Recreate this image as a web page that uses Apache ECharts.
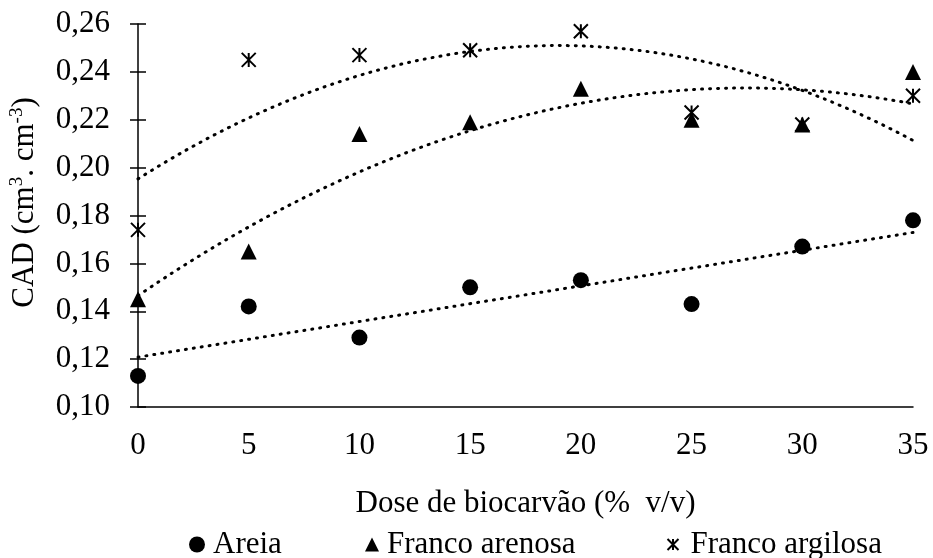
<!DOCTYPE html>
<html>
<head>
<meta charset="utf-8">
<script src="https://cdn.jsdelivr.net/npm/echarts@6/dist/echarts.min.js"></script>
<style>
  html, body { margin: 0; padding: 0; background: #fff; }
  #chart { width: 933px; height: 558px; }
</style>
</head>
<body>
<div id="chart"></div>
<script>
// dados
var doses = [0, 5, 10, 15, 20, 25, 30, 35];
var areia = [0.113, 0.142, 0.129, 0.150, 0.153, 0.143, 0.167, 0.178];
var francoArenosa = [0.145, 0.165, 0.214, 0.219, 0.233, 0.220, 0.218, 0.240];
var francoArgilosa = [0.174, 0.245, 0.247, 0.249, 0.257, 0.223, 0.218, 0.230];
var yTicks = [0.10, 0.12, 0.14, 0.16, 0.18, 0.20, 0.22, 0.24, 0.26];

var FONT = '"Liberation Serif", "Times New Roman", serif';
var FS = 31;

// ajuste por minimos quadrados (linha de tendencia)
function polyfit(xs, ys, deg) {
    var n = deg + 1, A = [], i, j, k;
    for (i = 0; i < n; i++) {
        A.push([]);
        for (j = 0; j < n; j++) {
            var s = 0;
            for (k = 0; k < xs.length; k++) s += Math.pow(xs[k], i + j);
            A[i].push(s);
        }
        var b = 0;
        for (k = 0; k < xs.length; k++) b += ys[k] * Math.pow(xs[k], i);
        A[i].push(b);
    }
    for (i = 0; i < n; i++) {
        for (j = i + 1; j < n; j++) {
            var f = A[j][i] / A[i][i];
            for (k = i; k <= n; k++) A[j][k] -= f * A[i][k];
        }
    }
    var c = new Array(n);
    for (i = n - 1; i >= 0; i--) {
        var t = A[i][n];
        for (j = i + 1; j < n; j++) t -= A[i][j] * c[j];
        c[i] = t / A[i][i];
    }
    return c;
}

function trend(ys, deg) {
    var c = polyfit(doses, ys, deg), out = [];
    for (var x = doses[0]; x <= doses[doses.length - 1] + 1e-9; x += 0.5) {
        var y = 0;
        for (var i = 0; i < c.length; i++) y += c[i] * Math.pow(x, i);
        out.push([x, y]);
    }
    return out;
}

function pts(ys) {
    return doses.map(function (d, i) { return [d, ys[i]]; });
}

var starPath = 'path://M0,0L10,10M10,0L0,10M5,0L5,10';

var dotted = { color: '#000', width: 3, type: [1, 7], cap: 'round' };

var chart = echarts.init(document.getElementById('chart'));

var yBase = {
    type: 'value',
    min: yTicks[0],
    max: yTicks[yTicks.length - 1],
    interval: 0.02,
    splitLine: { show: false }
};

function legendText(padLeft) {
    return { fontFamily: FONT, fontSize: FS, color: '#000', padding: [0, 0, 0, padLeft] };
}

var option = {
    animation: false,
    grid: { left: 138, right: 20, top: 24, bottom: 151, outerBoundsMode: 'none' },
    textStyle: { fontFamily: FONT },
    xAxis: {
        type: 'value',
        min: 0, max: 35, interval: 5,
        name: 'Dose de biocarvão (%  v/v)',
        nameLocation: 'middle',
        nameGap: 81,
        nameTextStyle: { fontFamily: FONT, fontSize: FS, color: '#000' },
        axisLine: { lineStyle: { color: '#000', width: 1.5 } },
        axisTick: { show: false },
        axisLabel: { fontFamily: FONT, fontSize: FS, color: '#000', margin: 23 },
        splitLine: { show: false }
    },
    yAxis: [
        Object.assign({}, yBase, {
            name: '{a|CAD (cm}{s|3}{a|. cm}{s|-3}{a|)}',
            nameLocation: 'middle',
            nameGap: 96,
            nameTextStyle: {
                padding: [0, 0, 0, 26],
                rich: {
                    a: { fontFamily: FONT, fontSize: FS, color: '#000', lineHeight: 34 },
                    s: { fontFamily: FONT, fontSize: 19, color: '#000', lineHeight: 34, verticalAlign: 'top' }
                }
            },
            axisLine: { show: true, lineStyle: { color: '#000', width: 1.5 } },
            axisTick: { show: true, length: 8, lineStyle: { color: '#000', width: 1.5 } },
            axisLabel: {
                fontFamily: FONT, fontSize: FS, color: '#000', margin: 28,
                formatter: function (v) { return v.toFixed(2).replace('.', ','); }
            }
        }),
        Object.assign({}, yBase, {
            position: 'left',
            axisLine: { show: false },
            axisTick: { show: true, inside: true, length: 8, lineStyle: { color: '#000', width: 1.5 } },
            axisLabel: { show: false }
        })
    ],
    legend: [
        { data: [{ name: 'Areia', icon: 'circle' }], left: 184, top: 524, itemWidth: 16, itemHeight: 16,
          itemStyle: { opacity: 1 }, textStyle: legendText(3) },
        { data: [{ name: 'Franco arenosa', icon: 'triangle' }], left: 360, top: 524, itemWidth: 14, itemHeight: 14,
          itemStyle: { opacity: 1 }, textStyle: legendText(3) },
        { data: [{ name: 'Franco argilosa', icon: starPath }], left: 660, top: 524, itemWidth: 11, itemHeight: 11,
          textStyle: legendText(7) }
    ],
    series: [
        { name: 'tend Areia', type: 'line', data: trend(areia, 1), showSymbol: false, symbol: 'none',
          lineStyle: dotted, silent: true, z: 1 },
        { name: 'tend Franco arenosa', type: 'line', data: trend(francoArenosa, 2), showSymbol: false, symbol: 'none',
          lineStyle: dotted, silent: true, z: 1 },
        { name: 'tend Franco argilosa', type: 'line', data: trend(francoArgilosa, 2), showSymbol: false, symbol: 'none',
          lineStyle: dotted, silent: true, z: 1 },
        { name: 'Areia', type: 'scatter', data: pts(areia), symbol: 'circle', symbolSize: 16,
          itemStyle: { color: '#000', opacity: 1 }, z: 3 },
        { name: 'Franco arenosa', type: 'scatter', data: pts(francoArenosa), symbol: 'triangle', symbolSize: 16,
          itemStyle: { color: '#000', opacity: 1 }, z: 3 },
        { name: 'Franco argilosa', type: 'scatter', data: pts(francoArgilosa), symbol: starPath, symbolSize: 14,
          itemStyle: { color: 'none', borderColor: '#000', borderWidth: 2, opacity: 1 }, z: 3 }
    ]
};

chart.setOption(option);
window.onresize = chart.resize;
</script>
</body>
</html>
